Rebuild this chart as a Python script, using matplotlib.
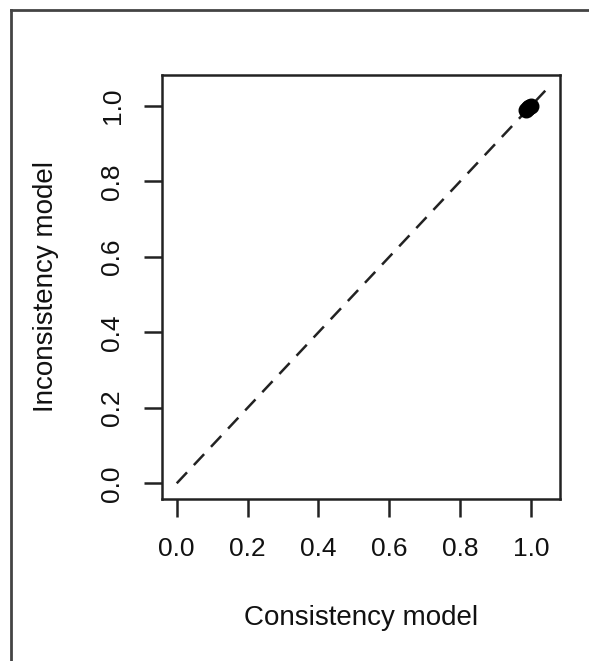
import matplotlib
matplotlib.use("Agg")
import matplotlib.pyplot as plt
from matplotlib.lines import Line2D

plt.rcParams['font.family'] = ['Liberation Sans', 'DejaVu Sans']

# Data
consistency = [0.985, 0.99, 0.995, 1.0]
inconsistency = [0.99, 0.993, 0.997, 1.0]
ticks = [0.0, 0.2, 0.4, 0.6, 0.8, 1.0]
tick_labels = ["0.0", "0.2", "0.4", "0.6", "0.8", "1.0"]
ref_line = [0.0, 1.04]

W, H = 589, 661
fig = plt.figure(figsize=(W / 100, H / 100), dpi=100)
ax = fig.add_axes([162 / W, 1 - 499 / H, (560 - 162) / W, (499 - 75) / H])

col = '#222222'
txt = '#111111'
ax.plot(ref_line, ref_line, linestyle=(0, (6, 4)), color=col, lw=1.8)
ax.scatter(consistency, inconsistency, s=110, color='black', zorder=3)

ax.set_xlim(-0.0416, 1.0816)
ax.set_ylim(-0.0416, 1.0816)
ax.set_xticks(ticks)
ax.set_xticklabels(tick_labels)
ax.set_yticks(ticks)
ax.set_yticklabels(tick_labels, rotation=90, va='center')
ax.tick_params(axis='both', length=13, width=1.8, color=col, labelsize=19, pad=14, labelcolor=txt)
for s in ax.spines.values():
    s.set_linewidth(1.8)
    s.set_color(col)

fig.text(361 / W, 1 - 618 / H, "Consistency model", fontsize=20, ha='center', va='center', color=txt)
fig.text(46 / W, 1 - 287 / H, "Inconsistency model", fontsize=20, ha='center', va='center',
         rotation=90, color=txt)

# outer border (top and left only)
fig.add_artist(Line2D([11 / W, 1.0], [1 - 10 / H, 1 - 10 / H], transform=fig.transFigure, color='#444444', lw=2))
fig.add_artist(Line2D([11 / W, 11 / W], [0.0, 1 - 10 / H], transform=fig.transFigure, color='#444444', lw=2))

fig.savefig("out.png", dpi=100)
